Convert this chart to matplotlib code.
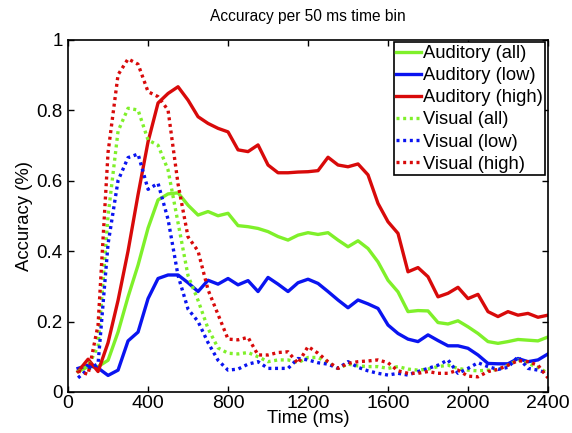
import matplotlib
matplotlib.use("Agg")
import matplotlib.pyplot as plt

# -----------------------------
# Data
# -----------------------------

time_ms = [50, 100, 150, 200, 250, 300, 350, 400, 450, 500, 550, 600,
           650, 700, 750, 800, 850, 900, 950, 1000, 1050, 1100, 1150, 1200,
           1250, 1300, 1350, 1400, 1450, 1500, 1550, 1600, 1650, 1700, 1750, 1800,
           1850, 1900, 1950, 2000, 2050, 2100, 2150, 2200, 2250, 2300, 2350, 2400]

aud_all = [0.058, 0.072, 0.072, 0.090, 0.170, 0.270, 0.360, 0.465, 0.545, 0.562, 0.565, 0.530,
           0.502, 0.512, 0.500, 0.507, 0.472, 0.469, 0.464, 0.455, 0.441, 0.431, 0.445, 0.452,
           0.447, 0.452, 0.431, 0.412, 0.429, 0.407, 0.369, 0.317, 0.284, 0.228, 0.231, 0.230,
           0.197, 0.193, 0.202, 0.185, 0.166, 0.143, 0.138, 0.143, 0.149, 0.147, 0.145, 0.156]

aud_low = [0.067, 0.076, 0.068, 0.047, 0.062, 0.145, 0.170, 0.265, 0.322, 0.332, 0.332, 0.310,
           0.285, 0.317, 0.306, 0.322, 0.304, 0.316, 0.285, 0.325, 0.306, 0.285, 0.310, 0.320,
           0.308, 0.285, 0.261, 0.239, 0.261, 0.250, 0.237, 0.190, 0.166, 0.150, 0.143, 0.162,
           0.146, 0.131, 0.131, 0.124, 0.105, 0.081, 0.080, 0.080, 0.095, 0.086, 0.091, 0.108]

aud_high = [0.058, 0.093, 0.058, 0.140, 0.260, 0.400, 0.560, 0.710, 0.820, 0.847, 0.866, 0.828,
            0.781, 0.762, 0.748, 0.738, 0.687, 0.682, 0.701, 0.644, 0.622, 0.622, 0.624, 0.625,
            0.628, 0.666, 0.644, 0.639, 0.647, 0.616, 0.535, 0.483, 0.450, 0.341, 0.353, 0.327,
            0.270, 0.280, 0.297, 0.265, 0.277, 0.228, 0.214, 0.228, 0.218, 0.223, 0.212, 0.218]

vis_all = [0.058, 0.073, 0.130, 0.500, 0.740, 0.805, 0.800, 0.715, 0.700, 0.630, 0.480, 0.330,
           0.260, 0.180, 0.125, 0.110, 0.108, 0.112, 0.100, 0.086, 0.091, 0.091, 0.083, 0.098,
           0.098, 0.083, 0.067, 0.079, 0.074, 0.072, 0.072, 0.067, 0.072, 0.065, 0.062, 0.065,
           0.072, 0.076, 0.067, 0.062, 0.060, 0.062, 0.064, 0.076, 0.091, 0.081, 0.070, 0.053]

vis_low = [0.040, 0.065, 0.080, 0.420, 0.600, 0.665, 0.675, 0.575, 0.592, 0.490, 0.330, 0.235,
           0.200, 0.140, 0.090, 0.062, 0.065, 0.079, 0.086, 0.067, 0.067, 0.067, 0.095, 0.091,
           0.083, 0.079, 0.067, 0.086, 0.070, 0.060, 0.053, 0.048, 0.053, 0.048, 0.058, 0.067,
           0.076, 0.091, 0.053, 0.067, 0.083, 0.072, 0.064, 0.070, 0.100, 0.067, 0.062, 0.053]

vis_high = [0.060, 0.050, 0.190, 0.680, 0.900, 0.945, 0.930, 0.852, 0.838, 0.800, 0.590, 0.440,
            0.400, 0.290, 0.220, 0.150, 0.148, 0.155, 0.105, 0.105, 0.112, 0.114, 0.081, 0.129,
            0.110, 0.086, 0.067, 0.081, 0.086, 0.088, 0.091, 0.083, 0.060, 0.053, 0.053, 0.058,
            0.053, 0.053, 0.062, 0.045, 0.043, 0.058, 0.064, 0.076, 0.089, 0.086, 0.076, 0.040]

x_ticks = [0, 400, 800, 1200, 1600, 2000, 2400]
y_ticks = [0, 0.2, 0.4, 0.6, 0.8, 1]
y_tick_labels = ["0", "0.2", "0.4", "0.6", "0.8", "1"]

GREEN = "#7ff02a"
BLUE = "#0a14f0"
RED = "#d80a0a"

plt.rcParams["font.family"] = ["Liberation Sans", "DejaVu Sans"]

# -----------------------------
# Plot
# -----------------------------

fig = plt.figure(figsize=(5.72, 4.33), dpi=100)
ax = fig.add_axes([0.119, 0.0947, 0.839, 0.814])

lw = 2.4
dots = (0, (0.9, 1.1))

ax.plot(time_ms, aud_all, color=GREEN, linewidth=lw, label="Auditory (all)")
ax.plot(time_ms, aud_low, color=BLUE, linewidth=lw, label="Auditory (low)")
ax.plot(time_ms, aud_high, color=RED, linewidth=lw, label="Auditory (high)")
ax.plot(time_ms, vis_all, color=GREEN, linewidth=lw, linestyle=dots,
        dash_capstyle="butt", label="Visual (all)")
ax.plot(time_ms, vis_low, color=BLUE, linewidth=lw, linestyle=dots,
        dash_capstyle="butt", label="Visual (low)")
ax.plot(time_ms, vis_high, color=RED, linewidth=lw, linestyle=dots,
        dash_capstyle="butt", label="Visual (high)")

ax.set_xlim(0, 2400)
ax.set_ylim(0, 1)
ax.set_xticks(x_ticks)
ax.set_yticks(y_ticks)
ax.set_yticklabels(y_tick_labels)
ax.tick_params(axis="x", direction="in", top=True, labelsize=14,
               length=4, width=1, pad=2)
ax.tick_params(axis="y", direction="in", right=True, labelsize=13.5,
               length=4, width=1, pad=4)

for spine in ax.spines.values():
    spine.set_linewidth(1.2)

ax.set_title("Accuracy per 50 ms time bin", fontsize=11.2, pad=13)
ax.set_xlabel("Time (ms)", fontsize=13.3, labelpad=-1)
ax.set_ylabel("Accuracy (%)", fontsize=13.3, labelpad=2)

leg = ax.legend(loc="upper right", fontsize=13.2, handlelength=1.35,
                handletextpad=0.08, labelspacing=0.28, borderpad=0.15,
                borderaxespad=0.15, fancybox=False, framealpha=1)
leg.get_frame().set_edgecolor("black")
leg.get_frame().set_linewidth(1.2)

fig.savefig("out.png", dpi=100)
